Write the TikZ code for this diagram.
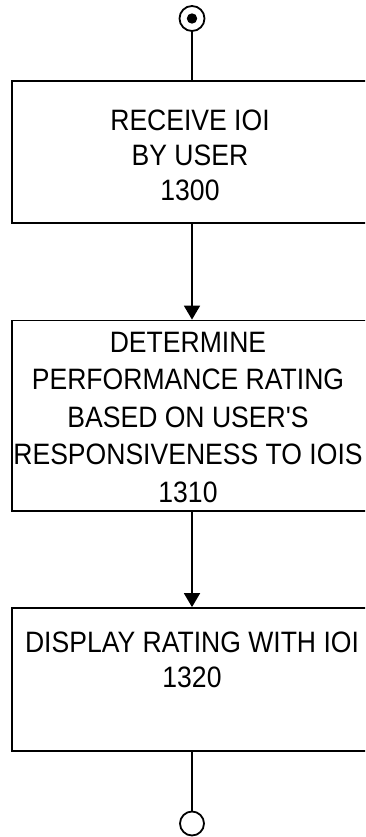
\documentclass[tikz,border=0pt]{standalone}
\usepackage{fontspec}
\newfontfamily\libsans{Liberation Sans}[FakeStretch=0.9]
\usetikzlibrary{arrows.meta}
\begin{document}
\begin{tikzpicture}[x=1pt,y=1pt,
  line width=1.8pt,
  box/.style={draw, line width=1.8pt, rectangle, minimum width=360pt, inner sep=0pt},
  txt/.style={align=center, inner sep=0pt, font=\libsans\fontsize{29.5}{35}\selectfont},
  flow/.style={-{Triangle[width=16pt,length=14pt]}, line width=1.8pt},
  plain/.style={line width=1.8pt},
  term/.style={draw, circle, line width=1.8pt, minimum size=25pt, inner sep=0pt}]
\useasboundingbox (0,0) rectangle (365,-837);
\clip (0,0) rectangle (365,-837);
\node[term] (start) at (192,-18.5) {};
\fill (start.center) circle (5.2pt);
\node[box, minimum height=142.6pt] (b1) at (192,-152) {};
\node[box, minimum height=190.5pt] (b2) at (192,-415.75) {};
\node[box, minimum height=143pt] (b3) at (192,-679.5) {};
\node[term, minimum size=24pt] (stop) at (192,-823.5) {};
\node[txt] (t1) at (190,-155) {RECEIVE IOI\\BY USER\\1300};
\node[txt, font=\libsans\fontsize{29.5}{37.5}\selectfont] (t2) at (188,-417) {DETERMINE\\PERFORMANCE RATING\\BASED ON USER'S\\RESPONSIVENESS TO IOIS\hspace*{16pt}\\1310};
\node[txt] (t3) at (192,-660) {DISPLAY RATING WITH IOI\\1320};
\draw[plain] (start) -- (b1);
\draw[flow] (b1) -- (b2);
\draw[flow] (b2) -- (b3);
\draw[plain] (b3) -- (stop);
\end{tikzpicture}
\end{document}
